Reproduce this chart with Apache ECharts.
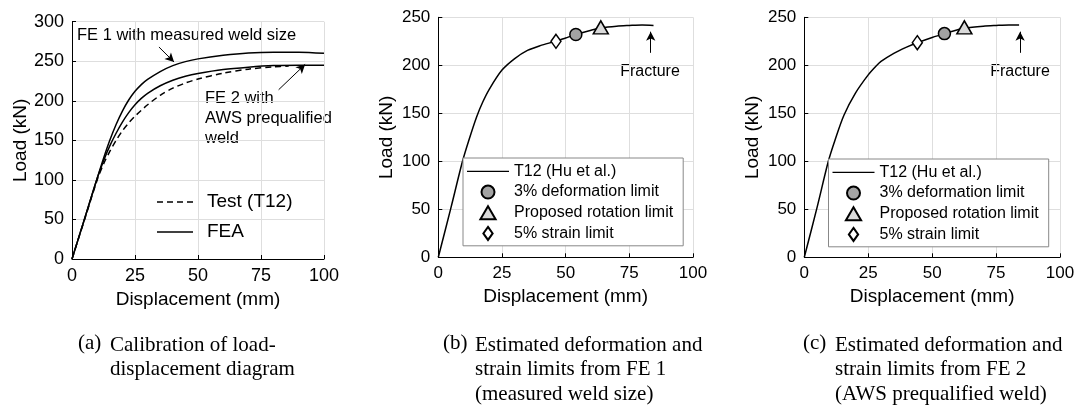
<!DOCTYPE html>
<html><head><meta charset="utf-8">
<script src="https://cdn.jsdelivr.net/npm/echarts@6/dist/echarts.min.js"></script>
<style>html,body{margin:0;padding:0;background:#fff}#c{width:1078px;height:410px}</style>
</head><body><div id="c"></div>
<script>
// ---- data ----
const xTicks = [0, 25, 50, 75, 100];
// Panel (a)
const fe1 = [[0,0],[5,51],[10,102],[12.5,127],[15,150],[17.5,170],[20,187],[22.5,201],[25,212],[27.5,220.5],[30,227],[35,237],[40,244.5],[45,249.5],[50,253],[60,257.5],[70,260.5],[80,261.5],[90,261.5],[100,260]];
const fe2 = [[0,0],[5,51],[10,102],[12.5,124],[15,143],[17.5,159],[20,173],[22.5,185],[25,195],[27.5,203],[30,209.5],[35,219],[40,226],[45,231],[50,234.5],[60,239.5],[70,242.5],[80,244.5],[90,245],[100,245]];
const testT12 = [[0,0],[5,50],[10,100],[12.5,120],[15,136],[17.5,150],[20,162],[22.5,172],[25,180.5],[27.5,188],[30,195],[35,207],[40,216],[45,222.5],[50,227.5],[60,235],[70,240],[80,243],[86,244]];
// Panel (b) FE 1
const curveB = [[0,0],[5,52],[9.5,100],[12,122],[15,146],[17.5,162],[20,175],[25,195],[30,207],[35,215.5],[40,220.5],[46,225],[50,228.5],[54,232],[60,236.5],[64,239],[70,240.8],[75,241.5],[80,242],[84.5,241.5]];
const defLimitB = [[54,232]];
const rotLimitB = [[63.8,239.5]];
const strainLimitB = [[46.2,225]];
// Panel (c) FE 2
const curveC = [[0,0],[5,52],[9.4,100],[12,122],[15.5,148],[20,171],[25,190],[28,199],[30,204],[35,212.5],[40,219],[44.2,223.5],[50,229],[54.8,233],[60,237],[62.6,238.8],[70,240.8],[75,241.5],[80,242],[84,242]];
const defLimitC = [[54.8,233]];
const rotLimitC = [[62.6,239.5]];
const strainLimitC = [[44.2,223.6]];
// annotation arrows (data coords)
const arrowFE1 = [[34.5,268],[40.5,249]];
const arrowFE2 = [[82,214],[92.5,246]];
const fractureB = [[83.4,213],[83.4,235]];
const fractureC = [[84.4,213],[84.4,235]];

const FONT = 'Liberation Sans, Arial, sans-serif';
const SERIF = 'Liberation Serif, Times New Roman, serif';

const TRI = 'path://M7,0 L14,12 L0,12 Z';
const DIA = 'path://M5,0 L10,7 L5,14 L0,7 Z';
const SOLID36 = 'path://M0,0H36V1.5H0Z';
const DASH36 = 'path://M0,0H6V1.5H0Z M10,0H16V1.5H10Z M20,0H26V1.5H20Z M30,0H36V1.5H30Z';
const SOLID42 = 'path://M0,0H42V1.3H0Z';

function xAx(gi){
  return {gridIndex:gi,type:'value',min:0,max:100,interval:25,
    axisLine:{show:true,onZero:false,lineStyle:{color:'#000',width:1}},
    axisTick:{show:true,inside:true,length:4,lineStyle:{color:'#000'}},
    splitLine:{show:true,lineStyle:{color:'#dedede',width:1}},
    axisLabel:{fontSize:gi===0?18:17,color:'#000',fontFamily:FONT,margin:8},
    name:'Displacement (mm)',nameLocation:'middle',nameGap:gi===0?25:27,
    nameTextStyle:{fontSize:19,color:'#000',fontFamily:FONT}};
}
function yAx(gi,max){
  return {gridIndex:gi,type:'value',min:0,max:max,interval:50,
    axisLine:{show:true,onZero:false,lineStyle:{color:'#000',width:1}},
    axisTick:{show:true,inside:true,length:4,lineStyle:{color:'#000'}},
    splitLine:{show:true,lineStyle:{color:'#dedede',width:1}},
    axisLabel:{fontSize:gi===0?18:17,color:'#000',fontFamily:FONT,margin:8},
    name:'Load (kN)',nameLocation:'middle',nameGap:42,nameRotate:90,
    nameTextStyle:{fontSize:19,color:'#000',fontFamily:FONT}};
}
function arrowML(pts){
  return {silent:true,symbol:['none','arrow'],symbolSize:[7,9],animation:false,
    lineStyle:{color:'#000',width:1,type:'solid'},label:{show:false},emphasis:{disabled:true},
    data:[[{coord:pts[0]},{coord:pts[1]}]]};
}
const lineS = (name,data,xi,extra) => Object.assign({name:name,type:'line',xAxisIndex:xi,yAxisIndex:xi,data:data,
  showSymbol:false,symbol:'none',smooth:0.3,lineStyle:{color:'#000',width:1.5},itemStyle:{color:'#000'},
  emphasis:{disabled:true},animation:false,z:3},extra||{});
const scat = (name,data,xi,sym,size,fill) => ({name:name,type:'scatter',xAxisIndex:xi,yAxisIndex:xi,data:data,
  symbol:sym,symbolSize:size,itemStyle:{color:fill,borderColor:'#000',borderWidth:1.5,opacity:1},
  emphasis:{disabled:true},animation:false,z:5});

const legendItemsBC = [
  {name:'T12 (Hu et al.)',icon:SOLID42,itemStyle:{color:'#000',borderWidth:0}},
  {name:'3% deformation limit'},
  {name:'Proposed rotation limit',icon:TRI},
  {name:'5% strain limit',icon:DIA}
];
const legendCommon = {orient:'vertical',backgroundColor:'#fff',borderColor:'#888',borderWidth:1,
  itemWidth:42,itemHeight:13,itemGap:0,selectedMode:false,symbolKeepAspect:true,
  textStyle:{fontSize:16,color:'#000',fontFamily:FONT,lineHeight:20.7},
  data:legendItemsBC};

const option = {
  animation:false,
  grid:[
    {left:72,top:21.7,width:252,height:237.3},
    {left:438.3,top:17.3,width:254.7,height:240},
    {left:804.3,top:17.3,width:255.7,height:240}
  ],
  xAxis:[xAx(0),xAx(1),xAx(2)],
  yAxis:[yAx(0,300),yAx(1,250),yAx(2,250)],
  legend:[
    {orient:'vertical',left:157,top:191,padding:0,itemWidth:36,itemHeight:10,itemGap:8,selectedMode:false,symbolKeepAspect:true,
     textStyle:{fontSize:19,color:'#000',fontFamily:FONT,lineHeight:22,padding:[0,0,0,9]},
     data:[{name:'Test (T12)',icon:DASH36,itemStyle:{color:'#000',borderWidth:0}},
           {name:'FEA',icon:SOLID36,itemStyle:{color:'#000',borderWidth:0}}]},
    Object.assign({left:463,top:158,padding:[3,10,2,4]},legendCommon),
    Object.assign({left:828.5,top:159,padding:[3,10,2,4]},legendCommon)
  ],
  series:[
    lineS('FEA',fe1,0,{markLine:arrowML(arrowFE1)}),
    lineS('FEA',fe2,0,{markLine:arrowML(arrowFE2)}),
    lineS('Test (T12)',testT12,0,{lineStyle:{color:'#000',width:1.5,type:[6,4]}}),
    lineS('T12 (Hu et al.)',curveB,1,{markLine:arrowML(fractureB)}),
    scat('5% strain limit',strainLimitB,1,DIA,[10,14],'#fff'),
    scat('3% deformation limit',defLimitB,1,'circle',12,'#a3a3a3'),
    scat('Proposed rotation limit',rotLimitB,1,TRI,[15,13],'#dadada'),
    lineS('T12 (Hu et al.)',curveC,2,{markLine:arrowML(fractureC)}),
    scat('5% strain limit',strainLimitC,2,DIA,[10,14],'#fff'),
    scat('3% deformation limit',defLimitC,2,'circle',12,'#a3a3a3'),
    scat('Proposed rotation limit',rotLimitC,2,TRI,[15,13],'#dadada')
  ],
  graphic:[
    {type:'text',x:77,y:35,style:{text:'FE 1 with measured weld size',fontSize:16.5,fontFamily:FONT,fill:'#000',verticalAlign:'middle'}},
    {type:'text',x:205,y:98,style:{text:'FE 2 with',fontSize:16.5,fontFamily:FONT,fill:'#000',verticalAlign:'middle'}},
    {type:'text',x:205,y:118,style:{text:'AWS prequalified',fontSize:16.5,fontFamily:FONT,fill:'#000',verticalAlign:'middle'}},
    {type:'text',x:205,y:138,style:{text:'weld',fontSize:16.5,fontFamily:FONT,fill:'#000',verticalAlign:'middle'}},
    {type:'text',x:650,y:72,style:{text:'Fracture',fontSize:16,fontFamily:FONT,fill:'#000',align:'center',verticalAlign:'middle'}},
    {type:'text',x:1020,y:72,style:{text:'Fracture',fontSize:16,fontFamily:FONT,fill:'#000',align:'center',verticalAlign:'middle'}},
    {type:'text',left:78,top:333,style:{text:'(a)',fontSize:21,fontFamily:SERIF,fill:'#000'}},
    {type:'text',left:110,top:333,style:{text:'Calibration of load-\ndisplacement diagram',fontSize:21,lineHeight:24.5,fontFamily:SERIF,fill:'#000'}},
    {type:'text',left:443,top:333,style:{text:'(b)',fontSize:21,fontFamily:SERIF,fill:'#000'}},
    {type:'text',left:475,top:333,style:{text:'Estimated deformation and\nstrain limits from FE 1\n(measured weld size)',fontSize:21,lineHeight:24.5,fontFamily:SERIF,fill:'#000'}},
    {type:'text',left:803,top:333,style:{text:'(c)',fontSize:21,fontFamily:SERIF,fill:'#000'}},
    {type:'text',left:835,top:333,style:{text:'Estimated deformation and\nstrain limits from FE 2\n(AWS prequalified weld)',fontSize:21,lineHeight:24.5,fontFamily:SERIF,fill:'#000'}}
  ]
};
const chart = echarts.init(document.getElementById('c'),null,{renderer:'canvas'});
chart.setOption(option);
</script></body></html>
